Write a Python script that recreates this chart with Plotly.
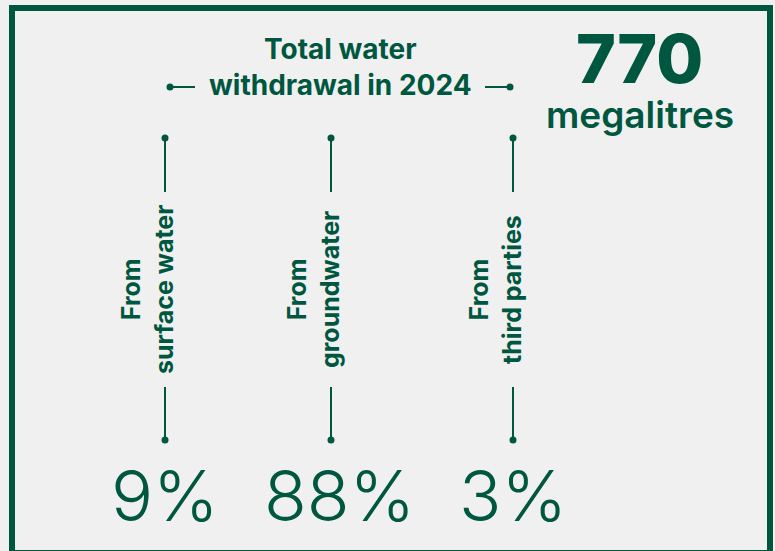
import plotly.graph_objects as go

# ---- data ----
categories = ["From<br>surface water", "From<br>groundwater", "From<br>third parties"]
shares = [9, 88, 3]  # percent of total withdrawal
total_megalitres = 770
title_text = "Total water<br>withdrawal in 2024"
unit_text = "megalitres"

GREEN = "#00573f"
BG = "#f0f0f0"
W, H = 775, 551
FONT = "Inter"

# layout constants (pixel coordinates mapped through axes)
col_x = [165, 331, 513]
pct_x = [165, 339, 513]
top_dot, top_end = 138, 192
bot_start, bot_dot = 387, 440

fig = go.Figure()

for i, (cat, share) in enumerate(zip(categories, shares)):
    x = col_x[i]
    fig.add_trace(go.Scatter(x=[x, x], y=[top_dot, top_end], mode="lines",
                             line=dict(color=GREEN, width=2), hoverinfo="skip", showlegend=False))
    fig.add_trace(go.Scatter(x=[x, x], y=[bot_start, bot_dot], mode="lines",
                             line=dict(color=GREEN, width=2), hoverinfo="skip", showlegend=False))
    fig.add_trace(go.Scatter(x=[x, x], y=[top_dot, bot_dot], mode="markers",
                             marker=dict(color=GREEN, size=7), hoverinfo="skip", showlegend=False))
    fig.add_annotation(x=x - 18, y=290, text=cat, textangle=-90,
                       showarrow=False, xanchor="center", yanchor="middle",
                       font=dict(family=FONT, size=25, color=GREEN, weight=700), align="center")
    fig.add_annotation(x=pct_x[i], y=495, text=f"{share}%", showarrow=False,
                       xanchor="center", yanchor="middle",
                       font=dict(family=FONT, size=70, color=GREEN, weight=300))

for xs in ([170, 195], [485, 510]):
    fig.add_trace(go.Scatter(x=xs, y=[87, 87], mode="lines",
                             line=dict(color=GREEN, width=2), hoverinfo="skip", showlegend=False))
fig.add_trace(go.Scatter(x=[170, 510], y=[87, 87], mode="markers",
                         marker=dict(color=GREEN, size=7), hoverinfo="skip", showlegend=False))

fig.add_annotation(x=340, y=67, text=title_text, showarrow=False,
                   xanchor="center", yanchor="middle", align="center",
                   font=dict(family=FONT, size=28, color=GREEN, weight=700))

fig.add_annotation(x=639, y=58, text=str(total_megalitres), showarrow=False,
                   xanchor="center", yanchor="middle",
                   font=dict(family=FONT, size=68, color=GREEN, weight=800))
fig.add_annotation(x=640, y=114, text=unit_text, showarrow=False,
                   xanchor="center", yanchor="middle",
                   font=dict(family=FONT, size=37, color=GREEN, weight=600))

fig.add_shape(type="rect", x0=12, x1=770, y0=8, y1=553, xref="x", yref="y",
              line=dict(color=GREEN, width=6), fillcolor="rgba(0,0,0,0)", layer="above")

fig.update_xaxes(range=[0, W], visible=False, fixedrange=True)
fig.update_yaxes(range=[H, 0], visible=False, fixedrange=True)
fig.update_layout(width=W, height=H, margin=dict(l=0, r=0, t=0, b=0),
                  paper_bgcolor=BG, plot_bgcolor=BG)

fig.write_html("out.html")
